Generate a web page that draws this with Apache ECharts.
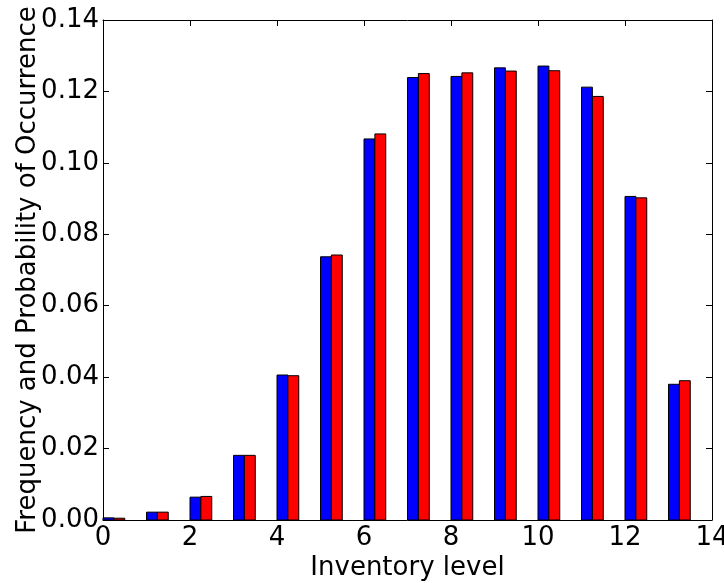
<!DOCTYPE html>
<html>
<head>
<meta charset="utf-8">
<script src="https://cdn.jsdelivr.net/npm/echarts@6/dist/echarts.min.js"></script>
<style>
  html, body { margin: 0; padding: 0; background: #fff; }
  #chart { width: 724px; height: 583px; }
</style>
</head>
<body>
<div id="chart"></div>
<script>
// Inventory levels and the two distributions compared at each level
const levels = [0, 1, 2, 3, 4, 5, 6, 7, 8, 9, 10, 11, 12, 13];
const frequency = [0.0006, 0.0022, 0.0064, 0.0181, 0.0406, 0.0737, 0.1067, 0.1239, 0.1242, 0.1266, 0.1271, 0.1212, 0.0906, 0.0380];
const probability = [0.0005, 0.0022, 0.0066, 0.0181, 0.0404, 0.0742, 0.1081, 0.1250, 0.1252, 0.1257, 0.1258, 0.1186, 0.0902, 0.0390];
const xTicks = [0, 2, 4, 6, 8, 10, 12, 14];
const yTicks = [0.00, 0.02, 0.04, 0.06, 0.08, 0.10, 0.12, 0.14];

const BAR_W = 0.25; // bar width in data units

function barSeries(name, values, offset, color) {
  return {
    name: name,
    type: 'custom',
    xAxisIndex: 0,
    yAxisIndex: 0,
    data: levels.map((lv, i) => [lv, values[i]]),
    encode: { x: 0, y: 1 },
    renderItem: function (params, api) {
      const x = api.value(0) + offset;
      const p0 = api.coord([x, 0]);
      const p1 = api.coord([x + BAR_W, api.value(1)]);
      return {
        type: 'rect',
        shape: { x: p0[0], y: p1[1], width: p1[0] - p0[0], height: p0[1] - p1[1] },
        style: { fill: color, stroke: '#000', lineWidth: 1 }
      };
    }
  };
}

const font = 'DejaVu Sans';
const FS = 26;
const axisCommon = {
  axisLine: { show: true, onZero: false, lineStyle: { color: '#000', width: 1 } },
  axisTick: { show: true, inside: true, length: 6, lineStyle: { color: '#000', width: 1 } },
  splitLine: { show: false }
};

const option = {
  animation: false,
  backgroundColor: '#fff',
  grid: { left: 103, right: 12, top: 20, bottom: 63, containLabel: false, outerBoundsMode: 'none' },
  xAxis: [
    Object.assign({
      type: 'value', min: 0, max: 14, interval: 2, position: 'bottom',
      name: 'Inventory level', nameLocation: 'middle', nameGap: 35, nameMoveOverlap: false,
      nameTextStyle: { fontFamily: font, fontSize: FS, color: '#000' },
      axisLabel: { fontFamily: font, fontSize: FS, color: '#000', margin: 5,
        formatter: v => xTicks.includes(v) ? String(v) : '' }
    }, axisCommon),
    Object.assign({
      type: 'value', min: 0, max: 14, interval: 2, position: 'top',
      axisLabel: { show: false }
    }, axisCommon)
  ],
  yAxis: [
    Object.assign({
      type: 'value', min: 0, max: 0.14, interval: 0.02, position: 'left',
      name: 'Frequency and Probability of Occurrence', nameLocation: 'middle', nameGap: 62, nameMoveOverlap: false,
      nameTextStyle: { fontFamily: font, fontSize: FS, color: '#000' },
      axisLabel: { fontFamily: font, fontSize: FS, color: '#000', margin: 4,
        formatter: v => {
          const t = yTicks.find(y => Math.abs(y - v) < 1e-9);
          return t === undefined ? '' : t.toFixed(2);
        } }
    }, axisCommon),
    Object.assign({
      type: 'value', min: 0, max: 0.14, interval: 0.02, position: 'right',
      axisLabel: { show: false }
    }, axisCommon)
  ],
  series: [
    barSeries('Frequency', frequency, 0, '#0000ff'),
    barSeries('Probability', probability, BAR_W, '#ff0000')
  ]
};

const chart = echarts.init(document.getElementById('chart'), null, { renderer: 'canvas' });
chart.setOption(option);
</script>
</body>
</html>
